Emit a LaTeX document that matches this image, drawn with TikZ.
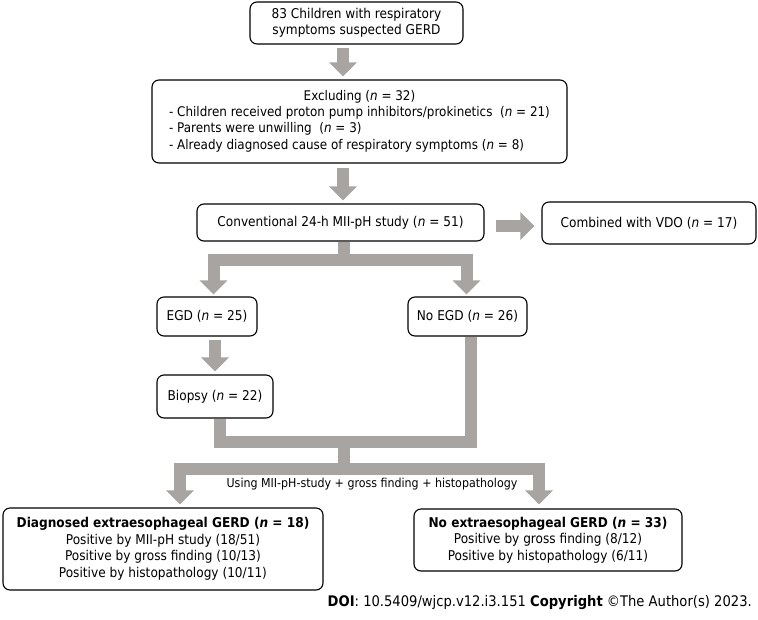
\documentclass[tikz,border=0pt]{standalone}
\usepackage{fontspec}
\setmainfont{DejaVu Sans Condensed}
\usetikzlibrary{arrows.meta}
\definecolor{arrowgray}{RGB}{167,164,162}
\tikzset{
  box/.style={draw=black, line width=1.1pt, rounded corners=7pt, fill=white, inner sep=0pt, align=center},
  fatline/.style={draw=arrowgray, line width=12pt, line join=miter},
  fatarrow/.style={fatline, -{Triangle[width=27pt,length=14pt]}},
}
\newcommand{\nn}{\textit{n}}
\begin{document}
\begin{tikzpicture}[x=1pt,y=-1pt, font=\fontsize{13.5}{16.5}\selectfont]
\useasboundingbox (0,0) rectangle (758,619);
% boxes
\node[box, minimum width=213pt, minimum height=42pt] (b1) at (356.5,23) {83 Children with respiratory\\symptoms suspected GERD};
\node[box, minimum width=415pt, minimum height=83pt] (b2) at (359.5,121.5) {\fontsize{13.3}{16.3}\selectfont\begin{tabular}{@{}l@{}}
\multicolumn{1}{@{}c@{}}{Excluding (\nn{} = 32)}\\
- Children received proton pump inhibitors/prokinetics~ (\nn{} = 21)\\
- Parents were unwilling~ (\nn{} = 3)\\
- Already diagnosed cause of respiratory symptoms (\nn{} = 8)
\end{tabular}};
\node[box, minimum width=287pt, minimum height=37pt] (b3) at (340.5,222.5) {Conventional 24-h MII-pH study (\nn{} = 51)};
\node[box, minimum width=214pt, minimum height=42pt] (b4) at (649,223) {Combined with VDO (\nn{} = 17)};
\node[box, minimum width=100pt, minimum height=39pt] (egd) at (207,316.5) {EGD (\nn{} = 25)};
\node[box, minimum width=119pt, minimum height=39pt] (noegd) at (467.5,316.5) {No EGD (\nn{} = 26)};
\node[box, minimum width=116pt, minimum height=43pt] (bio) at (215,396.5) {Biopsy (\nn{} = 22)};
\node[box, minimum width=320pt, minimum height=82pt] (diag) at (163,549) {\fontsize{13.5}{15.7}\selectfont\textbf{Diagnosed extraesophageal GERD (\nn{} = 18)}\\Positive by MII-pH study (18/51)\\Positive by gross finding (10/13)\\Positive by histopathology (10/11)};
\node[box, minimum width=268pt, minimum height=62pt] (nogerd) at (548,540) {\fontsize{13.5}{16.3}\selectfont\textbf{No extraesophageal GERD (\nn{} = 33)}\\Positive by gross finding (8/12)\\Positive by histopathology (6/11)};
\node[inner sep=0pt] (using) at (372,484) {\fontsize{12.3}{14}\selectfont Using MII-pH-study + gross finding + histopathology};
\node[inner sep=0pt, anchor=east] (doi) at (752,603) {\fontsize{14.6}{17}\selectfont\textbf{DOI}: 10.5409/wjcp.v12.i3.151 \textbf{Copyright} \copyright The Author(s) 2023.};
% helper coordinates
\coordinate (s1) at (343,0);
\coordinate (s2) at (343.5,0);
\coordinate (lb) at (213.5,0);
\coordinate (rb) at (466.5,0);
\coordinate (bar1) at (0,259.5);
\coordinate (eb) at (215,0);
\coordinate (m1) at (220,0);
\coordinate (m2) at (470.5,0);
\coordinate (bar2) at (0,442);
\coordinate (bar3) at (0,468.5);
\coordinate (dl) at (180,0);
\coordinate (dr) at (539,0);
% connectors
\draw[fatarrow, shorten <=3pt, shorten >=3pt] (b1.south -| s1) -- (b2.north -| s1);
\draw[fatarrow, shorten <=4pt, shorten >=3pt] (b2.south -| s1) -- (b3.north -| s1);
\draw[fatarrow, shorten <=11pt, shorten >=7pt] (b3.east |- 0,226) -- (b4.west |- 0,226);
\draw[fatarrow, shorten >=2pt] (b3.south -| s2) -- (s2 |- bar1) -| (egd.north -| lb);
\draw[fatarrow, shorten >=2pt] (b3.south -| s2) -- (s2 |- bar1) -| (noegd.north -| rb);
\draw[fatarrow, shorten <=3pt, shorten >=3pt] (egd.south -| eb) -- (bio.north -| eb);
\draw[fatline] (bio.south -| m1) |- (s2 |- bar2) -| (noegd.south -| m2);
\draw[fatarrow, shorten >=3pt] (s2 |- bar2) -- (s2 |- bar3) -| (diag.north -| dl);
\draw[fatarrow, shorten >=4pt] (s2 |- bar2) -- (s2 |- bar3) -| (nogerd.north -| dr);
\end{tikzpicture}
\end{document}
